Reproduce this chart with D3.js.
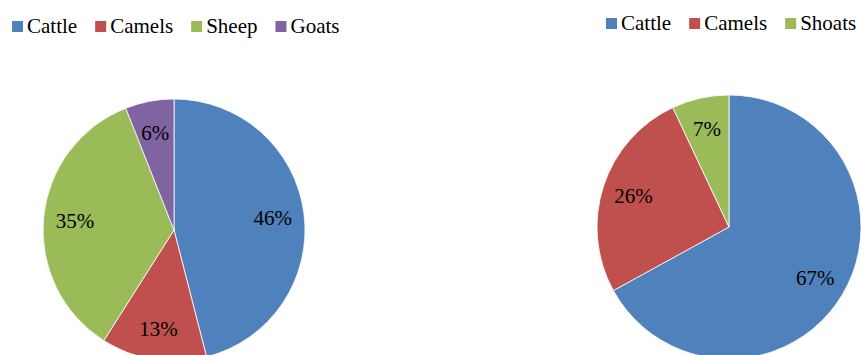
<!DOCTYPE html>
<html>
<head>
<meta charset="utf-8">
<script src="https://cdn.jsdelivr.net/npm/d3@7"></script>
</head>
<body style="margin:0">
<script>
// Herd composition, two pies
const leftCategories = ["Cattle", "Camels", "Sheep", "Goats"];
const leftValues = [46, 13, 35, 6];
const rightCategories = ["Cattle", "Camels", "Shoats"];
const rightValues = [67, 26, 7];
const palette = {
  Cattle: "#4F81BD",
  Camels: "#C0504D",
  Sheep: "#9BBB59",
  Shoats: "#9BBB59",
  Goats: "#8064A2"
};

const FONT = '"Times New Roman"';
const W = 861, H = 355;
const svg = d3.select("body").append("svg").attr("width", W).attr("height", H)
  .style("font-family", FONT);

function drawPie(cats, vals, cx, cy, r) {
  const data = cats.map((c, i) => ({ cat: c, value: vals[i] }));
  const pie = d3.pie().value(d => d.value).sort(null);
  const arc = d3.arc().innerRadius(0).outerRadius(r);
  const labelArc = d3.arc().innerRadius(r * 0.76).outerRadius(r * 0.76);
  const g = svg.append("g").attr("transform", `translate(${cx},${cy})`);
  const arcs = pie(data);
  g.selectAll("path").data(arcs).join("path")
    .attr("d", arc)
    .attr("fill", d => palette[d.data.cat])
    .attr("stroke", "#fff")
    .attr("stroke-width", 0.8);
  g.selectAll("text").data(arcs).join("text")
    .attr("transform", d => `translate(${labelArc.centroid(d)})`)
    .attr("text-anchor", "middle")
    .attr("dy", "0.35em")
    .style("font-family", FONT)
    .style("font-size", "21px")
    .text(d => d.data.value + "%");
}

function drawLegend(cats, x0, yTop) {
  const g = svg.append("g");
  let x = x0;
  cats.forEach(c => {
    g.append("rect").attr("x", x).attr("y", yTop).attr("width", 11).attr("height", 11)
      .attr("fill", palette[c]);
    const t = g.append("text").attr("x", x + 15).attr("y", yTop + 12)
      .style("font-family", FONT)
      .style("font-size", "21px")
      .text(c);
    x += 15 + t.node().getComputedTextLength() + 18;
  });
}

drawPie(leftCategories, leftValues, 174, 230, 131);
drawPie(rightCategories, rightValues, 729, 227, 132);
drawLegend(leftCategories, 12, 21);
drawLegend(rightCategories, 606, 18);
</script>
</body>
</html>
